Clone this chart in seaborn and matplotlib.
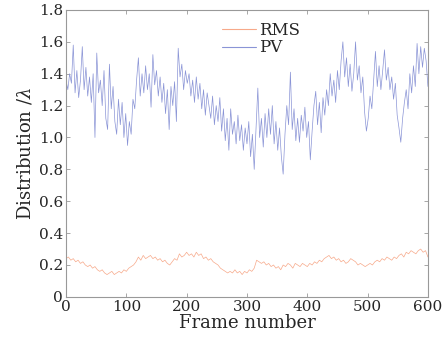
import numpy as np
import pandas as pd
import matplotlib
matplotlib.use("Agg")
import matplotlib.pyplot as plt
import seaborn as sns

# values: PV every 3rd frame, RMS every 4th frame
frames_pv = list(range(0, 601, 3))
frames_rms = list(range(0, 601, 4))

pv = [
    1.36, 1.30, 1.40, 1.34, 1.58, 1.28, 1.42, 1.25, 1.36, 1.57,
    1.30, 1.44, 1.26, 1.38, 1.22, 1.40, 1.00, 1.53, 1.28, 1.36,
    1.20, 1.42, 1.12, 1.05, 1.46, 1.18, 1.32, 1.10, 1.02, 1.24,
    1.08, 1.22, 1.00, 1.15, 0.95, 1.10, 1.02, 1.24, 1.18, 1.36,
    1.50, 1.26, 1.40, 1.28, 1.45, 1.30, 1.40, 1.19, 1.52, 1.33,
    1.42, 1.26, 1.38, 1.22, 1.34, 1.15, 1.30, 1.05, 1.32, 1.20,
    1.35, 1.10, 1.56, 1.38, 1.46, 1.30, 1.42, 1.34, 1.40, 1.26,
    1.36, 1.22, 1.38, 1.24, 1.34, 1.18, 1.30, 1.14, 1.28, 1.20,
    1.12, 1.26, 1.08, 1.20, 1.10, 1.25, 1.04, 1.18, 0.98, 1.12,
    0.92, 1.18, 1.02, 1.10, 0.96, 1.14, 0.98, 1.08, 0.92, 1.06,
    0.96, 1.10, 0.88, 1.02, 0.80, 1.05, 1.31, 1.00, 1.12, 0.94,
    1.15, 1.00, 1.18, 1.02, 1.20, 0.96, 1.10, 0.92, 1.06, 0.88,
    0.77, 1.02, 1.20, 1.08, 1.41, 1.05, 1.18, 0.98, 1.12, 0.97,
    1.14, 1.04, 1.19, 1.00, 1.10, 0.86, 1.04, 1.20, 1.29, 1.08,
    1.22, 1.03, 1.25, 1.14, 1.30, 1.20, 1.40, 1.26, 1.36, 1.22,
    1.42, 1.30, 1.48, 1.60, 1.38, 1.50, 1.32, 1.46, 1.29, 1.40,
    1.60, 1.36, 1.45, 1.28, 1.38, 1.16, 1.04, 1.12, 1.26, 1.18,
    1.36, 1.54, 1.32, 1.45, 1.30, 1.42, 1.55, 1.36, 1.44, 1.30,
    1.38, 1.24, 1.34, 1.14, 1.06, 0.97, 1.12, 1.22, 1.30, 1.18,
    1.40, 1.28, 1.45, 1.32, 1.59, 1.40, 1.57, 1.44, 1.56, 1.48,
    1.32,
]

rms = [
    0.24, 0.25, 0.23, 0.24, 0.22, 0.23, 0.21, 0.22, 0.20, 0.19, 0.20, 0.18, 0.19,
    0.17, 0.16, 0.17, 0.15, 0.14, 0.15, 0.16, 0.14, 0.15, 0.16, 0.15, 0.17, 0.16,
    0.18, 0.19, 0.20, 0.22, 0.25, 0.23, 0.26, 0.24, 0.25, 0.26, 0.24, 0.25, 0.23,
    0.24, 0.22, 0.23, 0.21, 0.20, 0.22, 0.24, 0.23, 0.27, 0.25, 0.26, 0.28,
    0.26, 0.27, 0.25, 0.28, 0.26, 0.27, 0.24, 0.25, 0.23, 0.24, 0.22, 0.21, 0.20,
    0.18, 0.17, 0.16, 0.15, 0.16, 0.15, 0.17, 0.15, 0.16, 0.14, 0.16, 0.15,
    0.17, 0.16, 0.18, 0.23, 0.22, 0.21, 0.22, 0.20, 0.21, 0.19, 0.20, 0.18, 0.19,
    0.17, 0.20, 0.19, 0.21, 0.20, 0.18, 0.21, 0.20, 0.19, 0.21, 0.20, 0.19,
    0.21, 0.20, 0.22, 0.21, 0.23, 0.22, 0.24, 0.25, 0.26, 0.24, 0.25, 0.23, 0.24,
    0.22, 0.23, 0.21, 0.22, 0.24, 0.23, 0.22, 0.20, 0.21, 0.20, 0.19, 0.20,
    0.21, 0.20, 0.22, 0.23, 0.22, 0.24, 0.23, 0.25, 0.24, 0.23, 0.25, 0.24, 0.26,
    0.27, 0.25, 0.28, 0.27, 0.29, 0.28, 0.27, 0.29, 0.30, 0.28, 0.29, 0.25,
]

x_ticks = [0, 100, 200, 300, 400, 500, 600]
y_ticks = [0, 0.2, 0.4, 0.6, 0.8, 1.0, 1.2, 1.4, 1.6, 1.8]
y_tick_labels = ["0", "0.2", "0.4", "0.6", "0.8", "1.0", "1.2", "1.4", "1.6", "1.8"]

df = pd.DataFrame({
    "frame": frames_rms + frames_pv,
    "value": rms + pv,
    "series": ["RMS"] * len(rms) + ["PV"] * len(pv),
})

sns.set_style("ticks")
plt.rcParams["font.family"] = ["DejaVu Serif"]
plt.rcParams["mathtext.fontset"] = "dejavuserif"

fig = plt.figure(figsize=(4.43, 3.44), dpi=100)
ax = fig.add_axes([0.149, 0.137, 0.817, 0.834])

sns.lineplot(data=df, x="frame", y="value", hue="series",
             palette={"RMS": "#f7a98a", "PV": "#8a94d6"},
             linewidth=0.5, ax=ax)

ax.set_xlim(0, 600)
ax.set_ylim(0, 1.8)
ax.set_xticks(x_ticks)
ax.set_yticks(y_ticks)
ax.set_yticklabels(y_tick_labels)
ax.tick_params(direction="in", length=3, width=0.6, color="#999999",
               labelsize=11, top=True, right=True, pad=2)
for s in ax.spines.values():
    s.set_color("#999999")
    s.set_linewidth(0.8)

ax.set_xlabel("Frame number", fontsize=13, labelpad=0)
ax.set_ylabel(r"Distribution /$\lambda$", fontsize=13, labelpad=3)

leg = ax.legend(loc="upper left", bbox_to_anchor=(0.40, 1.0), frameon=False,
                fontsize=12, handlelength=2.0, handletextpad=0.2,
                labelspacing=0.05, borderpad=0.2)
for line in leg.get_lines():
    line.set_linewidth(0.8)

fig.savefig("out.png", dpi=100)
